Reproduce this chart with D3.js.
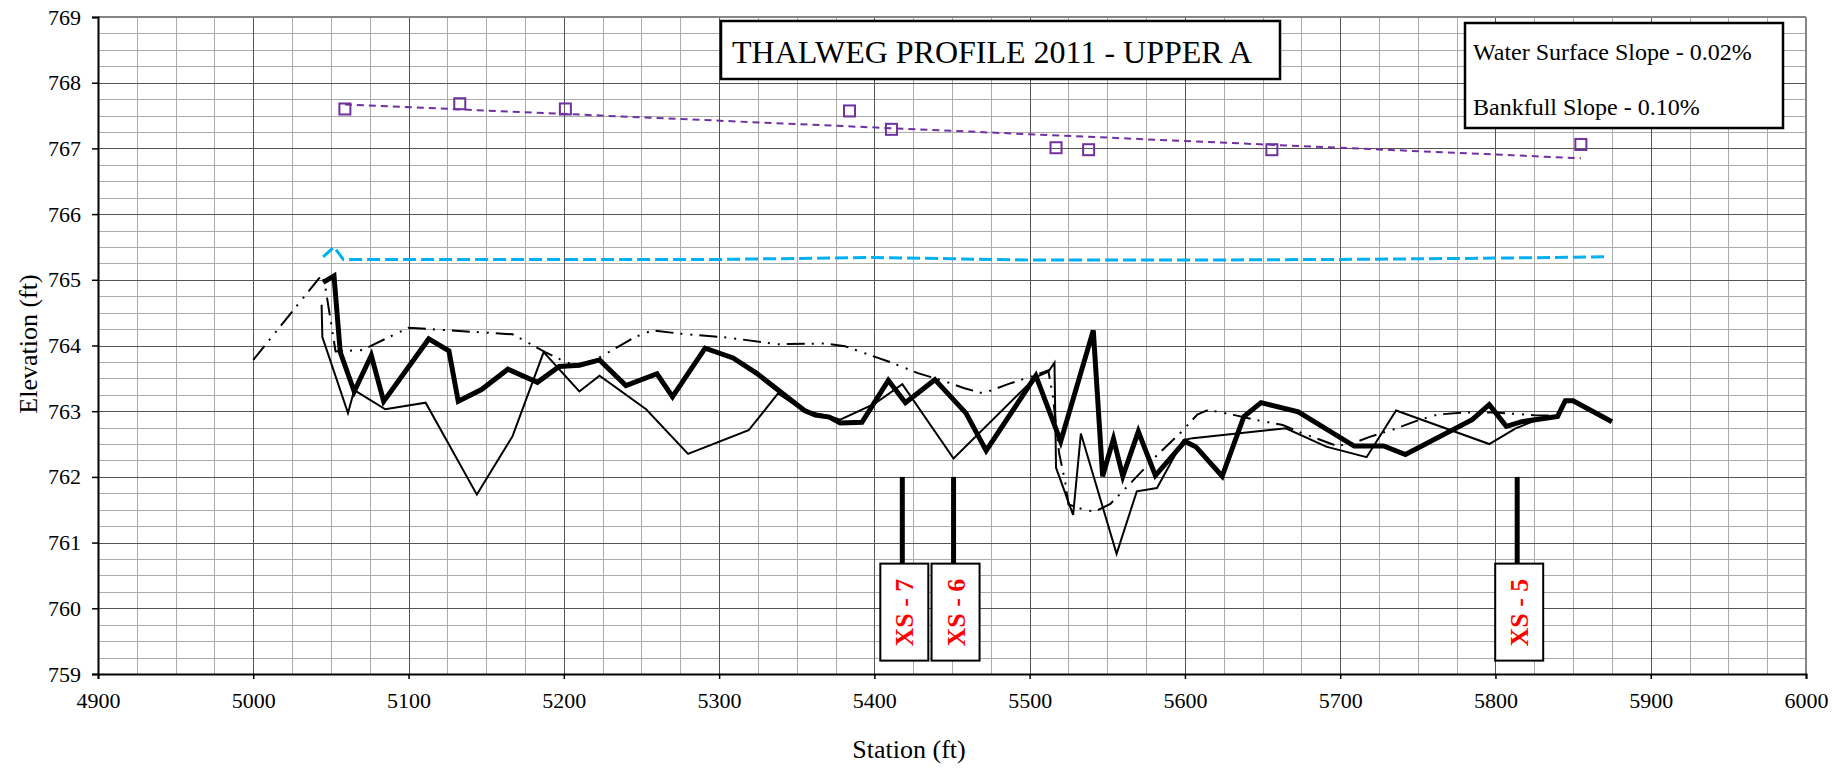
<!DOCTYPE html>
<html><head><meta charset="utf-8">
<script src="https://cdn.jsdelivr.net/npm/d3@7"></script>
<style>
html,body{margin:0;padding:0;background:#fff;}
svg{display:block;font-family:"Liberation Serif","Times New Roman",serif;}
</style></head><body>
<svg id="chart" width="1839" height="768"></svg>
<script>
// ---- data ----
const xTicks = [4900,5000,5100,5200,5300,5400,5500,5600,5700,5800,5900,6000];
const yTicks = [759,760,761,762,763,764,765,766,767,768,769];
const titleText = "THALWEG PROFILE 2011 - UPPER A";
const slopeLabels = ["Water Surface Slope - 0.02%", "Bankfull Slope - 0.10%"];

// thick solid profile [station, elevation]
const profileThick = [
 [5045,764.96],[5052,765.06],[5056,763.90],[5065,763.30],[5076,763.85],[5084,763.15],
 [5113,764.10],[5126,763.92],[5132,763.15],[5147,763.33],[5164,763.64],[5183,763.44],
 [5197,763.68],[5210,763.70],[5223,763.78],[5240,763.39],[5260,763.57],[5270,763.22],
 [5291,763.96],[5309,763.81],[5324,763.58],[5355,763.01],[5362,762.94],[5371,762.91],
 [5378,762.82],[5392,762.83],[5409,763.47],[5420,763.13],[5439,763.48],[5459,762.97],
 [5472,762.40],[5504,763.54],[5520,762.54],[5541,764.23],[5547,762.01],[5554,762.58],
 [5560,762.01],[5570,762.69],[5581,762.02],[5600,762.54],[5607,762.46],[5624,762.01],
 [5638,762.92],[5649,763.13],[5673,762.99],[5709,762.47],[5728,762.47],[5742,762.34],
 [5785,762.87],[5796,763.10],[5807,762.77],[5817,762.84],[5840,762.92],[5845,763.16],
 [5850,763.16],[5875,762.84]
];
// thin solid profile
const profileThin = [
 [5044,764.62],[5044.5,764.13],[5061,762.97],[5065,763.32],[5085,763.03],[5111,763.13],
 [5144,761.73],[5167,762.62],[5187,763.90],[5210,763.30],[5223,763.54],[5253,763.03],
 [5280,762.35],[5319,762.71],[5338,763.27],[5355,763.00],[5370,762.93],[5378,762.87],
 [5400,763.11],[5418,763.41],[5451,762.28],[5504,763.52],[5512,763.60],[5516,763.74],
 [5517,762.14],[5528,761.42],[5533,762.66],[5556,760.83],[5569,761.78],[5582,761.83],
 [5599,762.56],[5605,762.59],[5665,762.74],[5691,762.46],[5717,762.30],[5736,763.01],
 [5796,762.50],[5813,762.74],[5826,762.86]
];
// dash-dot-dot profile
const profileDashDot = [
 [5000,763.78],[5044,765.07],[5046,764.95],[5053,763.91],[5070,763.93],[5100,764.27],
 [5167,764.17],[5178,764.03],[5188,763.90],[5201,763.75],[5210,763.68],[5223,763.82],
 [5246,764.13],[5257,764.23],[5275,764.18],[5306,764.12],[5337,764.02],[5368,764.03],
 [5381,763.99],[5400,763.83],[5411,763.74],[5428,763.58],[5446,763.45],[5458,763.35],
 [5470,763.27],[5487,763.42],[5504,763.55],[5512,763.62],[5515,763.22],[5519,762.36],
 [5523,761.91],[5525,761.58],[5535,761.50],[5542,761.47],[5552,761.59],[5564,761.88],
 [5582,762.33],[5598,762.69],[5608,762.95],[5615,763.02],[5632,762.94],[5645,762.87],
 [5663,762.79],[5675,762.67],[5698,762.47],[5709,762.52],[5719,762.61],[5734,762.72],
 [5750,762.86],[5763,762.95],[5781,762.98],[5800,762.98],[5825,762.94],[5838,762.93]
];
// water surface (blue dashed)
const waterSurface = [
 [5045,765.35],[5052,765.50],[5058,765.31],[5200,765.31],[5300,765.31],[5400,765.34],
 [5450,765.32],[5500,765.30],[5600,765.30],[5700,765.31],[5800,765.33],[5873,765.35]
];
// bankfull points (purple squares)
const bankfullPts = [
 [5059,767.60],[5133,767.68],[5201,767.60],[5384,767.57],[5411,767.29],
 [5517,767.01],[5538,766.98],[5656,766.98],[5855,767.06]
];
// bankfull trend line (purple dashed)
const bankfullTrend = [[5059,767.67],[5855,766.85]];
// cross-section markers
const xsStations = [5418,5451,5814];
const xsLabels = ["XS - 7","XS - 6","XS - 5"];
const xsTopElev = 762.0;
const xsBoxElev = 760.68;

// ---- chart ----
const L=98, R=1806, T=17, B=674;
const svg = d3.select("#chart");
const x = d3.scaleLinear().domain([4900,6000]).range([L,R]);
const y = d3.scaleLinear().domain([759,769]).range([B,T]);

const grid = svg.append("g");
const minorX = d3.range(4900,6000.1,25).filter(v=>v%100!==0);
const minorY = d3.range(759,769.01,0.25).filter(v=>Math.abs(v-Math.round(v))>1e-6);
grid.selectAll(".mx").data(minorX).join("line")
 .attr("x1",d=>Math.round(x(d))+0.5).attr("x2",d=>Math.round(x(d))+0.5)
 .attr("y1",T).attr("y2",B).attr("stroke","#ababab").attr("stroke-width",1);
grid.selectAll(".my").data(minorY).join("line")
 .attr("y1",d=>Math.round(y(d))+0.5).attr("y2",d=>Math.round(y(d))+0.5)
 .attr("x1",L).attr("x2",R).attr("stroke","#ababab").attr("stroke-width",1);
grid.selectAll(".Mx").data(xTicks).join("line")
 .attr("x1",d=>Math.round(x(d))+0.5).attr("x2",d=>Math.round(x(d))+0.5)
 .attr("y1",T).attr("y2",B).attr("stroke","#555").attr("stroke-width",1);
grid.selectAll(".My").data(yTicks).join("line")
 .attr("y1",d=>Math.round(y(d))+0.5).attr("y2",d=>Math.round(y(d))+0.5)
 .attr("x1",L).attr("x2",R).attr("stroke","#555").attr("stroke-width",1);

svg.append("line").attr("x1",L).attr("x2",R).attr("y1",T).attr("y2",T).attr("stroke","#858585").attr("stroke-width",2);
svg.append("line").attr("x1",R).attr("x2",R).attr("y1",T).attr("y2",B).attr("stroke","#858585").attr("stroke-width",2);

const yAxis = svg.append("g").attr("transform",`translate(${L},0)`)
 .call(d3.axisLeft(y).tickValues(yTicks).tickSize(6).tickPadding(11).tickFormat(d3.format("d")));
const xAxis = svg.append("g").attr("transform",`translate(0,${B})`)
 .call(d3.axisBottom(x).tickValues(xTicks).tickSize(5).tickPadding(13).tickFormat(d3.format("d")));
[yAxis,xAxis].forEach(a=>{
  a.select(".domain").attr("stroke","#000").attr("stroke-width",2);
  a.selectAll(".tick line").attr("stroke","#000").attr("stroke-width",1.5);
  a.selectAll("text").attr("font-family","Liberation Serif").attr("font-size",22).attr("fill","#000");
});

svg.append("text").attr("transform","translate(37,344) rotate(-90)").attr("text-anchor","middle")
 .attr("font-size",26).text("Elevation (ft)");
svg.append("text").attr("x",909).attr("y",758).attr("text-anchor","middle")
 .attr("font-size",26).text("Station (ft)");

const line = d3.line().x(d=>x(d[0])).y(d=>y(d[1]));

svg.append("path").datum(bankfullTrend).attr("d",line).attr("fill","none")
 .attr("stroke","#7030a0").attr("stroke-width",2).attr("stroke-dasharray","7,5");
svg.append("path").datum(waterSurface).attr("d",line).attr("fill","none")
 .attr("stroke","#00b0f0").attr("stroke-width",3).attr("stroke-dasharray","13,5");
svg.append("path").datum(profileDashDot).attr("d",line).attr("fill","none")
 .attr("stroke","#000").attr("stroke-width",2).attr("stroke-dasharray","18,7,2,8,2,7");
svg.append("path").datum(profileThin).attr("d",line).attr("fill","none")
 .attr("stroke","#000").attr("stroke-width",2).attr("stroke-linejoin","miter");
svg.append("path").datum(profileThick).attr("d",line).attr("fill","none")
 .attr("stroke","#000").attr("stroke-width",5).attr("stroke-linejoin","miter").attr("stroke-miterlimit",4);

svg.selectAll(".bf").data(bankfullPts).join("rect")
 .attr("x",d=>x(d[0])-5.5).attr("y",d=>y(d[1])-5.5).attr("width",11).attr("height",11)
 .attr("fill","none").attr("stroke","#7030a0").attr("stroke-width",2);

const xs = svg.selectAll(".xs").data(xsStations).join("g");
xs.append("line").attr("x1",d=>x(d)).attr("x2",d=>x(d))
 .attr("y1",y(xsTopElev)).attr("y2",y(xsBoxElev)).attr("stroke","#000").attr("stroke-width",5);
xs.append("rect").attr("x",d=>x(d)-22).attr("y",y(xsBoxElev)).attr("width",48).attr("height",97)
 .attr("fill","#fff").attr("stroke","#000").attr("stroke-width",2);
xs.append("text").attr("transform",d=>`translate(${x(d)+11},${y(xsBoxElev)+49}) rotate(-90)`)
 .attr("text-anchor","middle").attr("font-size",26).attr("font-weight","bold").attr("fill","#ff0000")
 .text((d,i)=>xsLabels[i]);

svg.append("rect").attr("x",721).attr("y",21).attr("width",559).attr("height",58)
 .attr("fill","#fff").attr("stroke","#000").attr("stroke-width",2.5);
svg.append("text").attr("x",732).attr("y",63).attr("font-size",32).text(titleText);

svg.append("rect").attr("x",1465).attr("y",23).attr("width",318).attr("height",105)
 .attr("fill","#fff").attr("stroke","#000").attr("stroke-width",2.5);
svg.selectAll(".sl").data(slopeLabels).join("text")
 .attr("x",1473).attr("y",(d,i)=>60+i*55).attr("font-size",24).text(d=>d);
</script>
</body></html>
